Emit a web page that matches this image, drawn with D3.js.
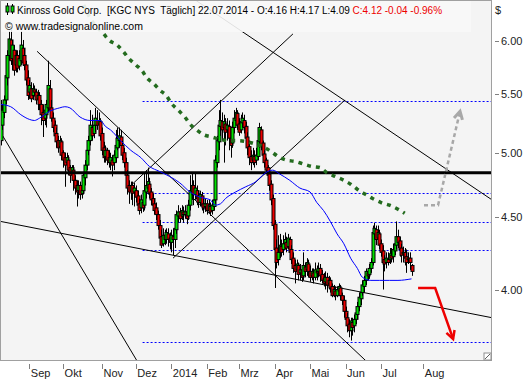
<!DOCTYPE html>
<html>
<head>
<meta charset="utf-8">
<script src="https://cdn.jsdelivr.net/npm/d3@7"></script>
<style>
  body { margin: 0; background: #fff; }
  svg { display: block; font-family: Tahoma, "Liberation Sans", "DejaVu Sans", sans-serif; }
</style>
</head>
<body>
<div id="chart"></div>
<script>
// daily bars [open, high, low, close], first bar 08.08.2013, last 22.07.2014
var ohlc = [
  [5.10,5.45,5.06,5.27],[5.23,5.41,5.19,5.36],[5.34,5.49,5.29,5.45],[5.45,5.72,5.41,5.67],[5.65,5.91,5.58,5.86],
  [5.86,6.10,5.81,6.02],[6.01,6.17,5.77,5.81],[5.83,6.01,5.72,5.96],[5.91,5.96,5.67,5.72],[5.77,5.91,5.70,5.86],
  [5.86,5.91,5.70,5.74],[5.76,5.91,5.72,5.83],[5.81,6.10,5.77,5.96],[5.93,6.01,5.76,5.79],[5.86,5.93,5.72,5.77],
  [5.77,5.81,5.58,5.63],[5.65,5.72,5.45,5.49],[5.52,5.63,5.46,5.58],[5.55,5.61,5.43,5.46],[5.49,5.60,5.45,5.55],
  [5.54,5.58,5.48,5.52],[5.52,5.55,5.41,5.45],[5.46,5.54,5.36,5.49],[5.49,5.52,5.36,5.41],[5.41,5.45,5.23,5.32],
  [5.34,5.41,5.13,5.27],[5.29,5.41,5.23,5.36],[5.32,5.45,5.21,5.41],[5.38,5.81,5.34,5.58],[5.55,5.63,5.32,5.36],
  [5.38,5.45,5.26,5.29],[5.29,5.34,5.17,5.21],[5.23,5.27,5.10,5.14],[5.16,5.21,5.04,5.09],[5.10,5.14,5.00,5.04],
  [5.05,5.14,4.98,5.10],[5.09,5.12,4.94,4.98],[5.00,5.02,4.88,4.94],[4.96,5.00,4.73,4.90],[4.92,5.00,4.86,4.96],
  [4.94,4.98,4.82,4.86],[4.88,4.90,4.76,4.82],[4.84,4.90,4.78,4.88],[4.86,4.90,4.70,4.78],[4.78,4.82,4.67,4.72],
  [4.74,4.78,4.58,4.69],[4.70,4.78,4.64,4.74],[4.74,4.77,4.63,4.67],[4.68,4.74,4.64,4.70],[4.70,4.84,4.67,4.82],
  [4.80,4.94,4.74,4.90],[4.90,5.06,4.86,5.02],[5.02,5.14,4.98,5.10],[5.10,5.36,5.06,5.23],[5.21,5.32,5.10,5.14],
  [5.16,5.29,5.12,5.23],[5.23,5.38,5.17,5.29],[5.27,5.36,5.19,5.23],[5.24,5.34,5.17,5.27],[5.26,5.29,5.10,5.14],
  [5.16,5.21,4.98,5.02],[5.04,5.09,4.92,4.96],[4.97,5.06,4.92,5.02],[5.02,5.04,4.90,4.94],[4.96,5.02,4.88,4.92],
  [4.92,5.00,4.86,4.96],[4.94,4.98,4.81,4.90],[4.92,5.02,4.86,4.98],[4.96,5.19,4.92,5.06],[5.04,5.21,5.02,5.12],
  [5.10,5.21,5.04,5.14],[5.13,5.19,5.02,5.06],[5.06,5.10,4.94,4.98],[5.00,5.04,4.88,4.92],[4.92,4.96,4.78,4.82],
  [4.82,4.86,4.67,4.72],[4.74,4.78,4.60,4.69],[4.70,4.77,4.63,4.74],[4.74,4.77,4.59,4.68],[4.69,4.76,4.58,4.72],
  [4.70,4.74,4.61,4.65],[4.66,4.70,4.55,4.59],[4.60,4.64,4.52,4.55],[4.57,4.67,4.53,4.63],[4.61,4.66,4.54,4.57],
  [4.59,4.84,4.55,4.70],[4.69,4.86,4.64,4.74],[4.72,4.88,4.67,4.77],[4.75,4.80,4.64,4.68],[4.69,4.72,4.59,4.63],
  [4.64,4.68,4.55,4.59],[4.60,4.64,4.52,4.55],[4.57,4.61,4.48,4.52],[4.52,4.55,4.41,4.44],[4.44,4.48,4.32,4.35],
  [4.36,4.41,4.28,4.30],[4.31,4.42,4.29,4.37],[4.37,4.41,4.30,4.34],[4.34,4.42,4.31,4.39],[4.38,4.42,4.29,4.34],
  [4.35,4.39,4.27,4.32],[4.32,4.41,4.25,4.37],[4.36,4.42,4.23,4.34],[4.34,4.44,4.28,4.42],[4.41,4.55,4.38,4.52],
  [4.51,4.59,4.46,4.54],[4.54,4.57,4.46,4.49],[4.51,4.59,4.48,4.55],[4.54,4.58,4.46,4.52],[4.52,4.59,4.49,4.54],
  [4.54,4.57,4.45,4.49],[4.51,4.63,4.48,4.59],[4.59,4.82,4.55,4.70],[4.69,4.84,4.63,4.74],[4.74,4.78,4.59,4.67],
  [4.67,4.84,4.63,4.72],[4.70,4.74,4.59,4.64],[4.66,4.70,4.57,4.61],[4.61,4.70,4.58,4.67],[4.66,4.69,4.55,4.59],
  [4.60,4.64,4.53,4.57],[4.58,4.64,4.54,4.60],[4.60,4.63,4.52,4.55],[4.55,4.63,4.53,4.59],[4.58,4.61,4.51,4.54],
  [4.55,4.63,4.52,4.59],[4.58,4.67,4.55,4.63],[4.63,4.98,4.60,4.94],[4.92,5.14,4.88,5.10],[5.09,5.36,5.02,5.23],
  [5.22,5.45,5.14,5.27],[5.26,5.34,5.10,5.19],[5.21,5.32,4.92,5.26],[5.24,5.29,5.06,5.17],[5.19,5.29,5.10,5.23],
  [5.22,5.27,5.02,5.12],[5.12,5.17,4.96,5.06],[5.08,5.26,5.04,5.21],[5.21,5.36,5.16,5.29],[5.27,5.38,5.23,5.34],
  [5.33,5.36,5.19,5.23],[5.24,5.29,5.14,5.17],[5.19,5.32,5.16,5.26],[5.25,5.34,5.21,5.29],[5.27,5.32,5.16,5.21],
  [5.22,5.26,5.09,5.12],[5.13,5.17,4.98,5.04],[5.05,5.10,4.90,4.96],[4.97,5.02,4.86,4.92],[4.94,5.04,4.90,4.98],
  [4.97,5.02,4.88,4.92],[4.94,5.04,4.90,4.98],[4.97,5.14,4.94,5.10],[5.09,5.25,5.04,5.21],[5.19,5.22,5.02,5.06],
  [5.08,5.10,4.94,4.98],[4.99,5.02,4.88,4.92],[4.94,4.96,4.84,4.86],[4.88,4.90,4.77,4.82],[4.83,4.86,4.70,4.74],
  [4.75,4.78,4.59,4.63],[4.64,4.67,4.41,4.44],[4.45,4.48,4.01,4.27],[4.28,4.34,4.14,4.18],[4.20,4.37,4.16,4.25],
  [4.25,4.38,4.21,4.30],[4.29,4.34,4.22,4.25],[4.27,4.37,4.23,4.31],[4.31,4.39,4.27,4.34],[4.32,4.36,4.25,4.28],
  [4.29,4.38,4.27,4.35],[4.34,4.36,4.21,4.25],[4.27,4.30,4.17,4.20],[4.21,4.25,4.11,4.14],[4.16,4.20,4.04,4.12],
  [4.13,4.20,4.10,4.17],[4.16,4.18,4.06,4.10],[4.11,4.17,4.06,4.13],[4.13,4.16,4.05,4.08],[4.09,4.25,4.06,4.16],
  [4.15,4.18,4.08,4.12],[4.13,4.21,4.09,4.18],[4.17,4.20,4.08,4.12],[4.12,4.16,4.05,4.08],[4.09,4.14,4.06,4.12],
  [4.11,4.14,4.04,4.08],[4.08,4.18,4.06,4.13],[4.12,4.16,4.06,4.11],[4.12,4.18,4.08,4.14],[4.14,4.17,4.05,4.09],
  [4.10,4.13,4.04,4.06],[4.07,4.11,4.02,4.04],[4.05,4.12,4.00,4.08],[4.08,4.11,3.98,4.03],[4.04,4.09,4.00,4.06],
  [4.06,4.08,3.98,4.01],[4.02,4.04,3.95,3.96],[3.97,4.03,3.95,4.00],[3.99,4.02,3.93,3.96],[3.96,4.02,3.95,4.00],
  [3.99,4.04,3.96,4.02],[4.01,4.03,3.93,3.96],[3.96,3.98,3.90,3.93],[3.93,3.96,3.82,3.86],[3.86,3.89,3.78,3.81],
  [3.82,3.85,3.73,3.77],[3.78,3.81,3.70,3.74],[3.74,3.82,3.68,3.80],[3.79,3.82,3.71,3.76],[3.77,3.84,3.73,3.81],
  [3.81,3.87,3.78,3.85],[3.84,3.92,3.81,3.89],[3.89,3.98,3.86,3.95],[3.94,4.01,3.90,3.98],[3.98,4.06,3.96,4.03],
  [4.02,4.09,3.98,4.06],[4.06,4.14,4.03,4.12],[4.11,4.14,4.06,4.09],[4.10,4.17,4.07,4.14],[4.14,4.21,4.11,4.18],
  [4.18,4.44,4.16,4.39],[4.38,4.46,4.34,4.42],[4.41,4.44,4.30,4.34],[4.35,4.44,4.30,4.39],[4.38,4.41,4.27,4.30],
  [4.31,4.34,4.22,4.25],[4.26,4.30,4.00,4.18],[4.20,4.23,4.12,4.17],[4.18,4.25,4.14,4.21],[4.20,4.25,4.16,4.18],
  [4.20,4.28,4.17,4.24],[4.23,4.28,4.18,4.21],[4.22,4.31,4.18,4.27],[4.26,4.35,4.23,4.31],[4.30,4.47,4.27,4.36],
  [4.36,4.41,4.28,4.32],[4.33,4.36,4.22,4.27],[4.28,4.31,4.18,4.23],[4.24,4.29,4.18,4.25],[4.25,4.28,4.16,4.21],
  [4.22,4.27,4.11,4.18],[4.20,4.25,4.17,4.21],[4.21,4.25,4.13,4.18],[4.16,4.17,4.09,4.12]
];

// blue moving average [bar, price]
var maBlue = [[0,5.41],[6,5.39],[12,5.32],[17,5.28],[20,5.27],[23,5.29],[29,5.35],[35,5.38],[38,5.39],[41,5.38],
  [47,5.30],[53,5.27],[59,5.27],[62,5.22],[65,5.19],[71,5.10],[77,5.02],[83,4.96],[88,4.89],[94,4.85],[100,4.81],
  [106,4.76],[112,4.69],[118,4.65],[124,4.63],[127,4.59],[130,4.60],[133,4.64],[139,4.69],[145,4.73],[151,4.77],
  [155,4.82],[158,4.85],[161,4.86],[165,4.83],[171,4.78],[177,4.72],[183,4.69],[187,4.61],[191,4.55],[195,4.47],
  [199,4.38],[203,4.31],[207,4.21],[211,4.14],[214,4.08],[219,4.06],[224,4.06],[230,4.06],[235,4.06],[243,4.07]];

// green dotted long moving average [bar, price]
var maGreen = [[47,6.45],[54,6.20],[61,6.07],[64,6.01],[69,5.96],[73,5.89],[76,5.83],[80,5.77],[84,5.71],[86,5.66],
  [91,5.59],[94,5.54],[98,5.49],[101,5.42],[105,5.36],[109,5.30],[112,5.24],[116,5.19],[120,5.15],[125,5.13],
  [130,5.11],[135,5.10],[140,5.10],[146,5.09],[151,5.07],[155,5.05],[160,5.01],[164,4.97],[169,4.94],[174,4.93],
  [179,4.91],[184,4.89],[189,4.88],[193,4.84],[198,4.81],[203,4.78],[207,4.75],[211,4.71],[216,4.67],[220,4.64],
  [225,4.61],[230,4.59],[235,4.56],[239,4.53]];

// thin trend lines, each [[bar, price], [bar, price]]
var trendLines = [
  [[0, 5.17], [80.7, 3.56]],
  [[21.6, 5.90], [216.1, 3.56]],
  [[115.6, 6.41], [290.6, 4.63]],
  [[77.1, 4.74], [172.9, 6.07]],
  [[102, 4.21], [203.7, 5.45]],
  [[0, 4.47], [290.6, 3.82]]
];

var supportLevel = 4.84;
var dottedLevels = [5.44, 4.68, 4.46, 4.26, 3.67];
var dottedFromBar = 84;

// projection arrows [bar, price]
var upArrow = [[250.4, 4.59], [258.7, 4.59], [271.7, 5.35]];
var downArrow = [[246.9, 4.01], [257, 4.01], [267.6, 3.69]];

var priceTicks = [4.00, 4.50, 5.00, 5.50, 6.00];
var monthLabels = ["Sep", "Okt", "Nov", "Dez", "2014", "Feb", "Mrz", "Apr", "Mai", "Jun", "Jul", "Aug"];
var monthBars = [17, 37, 60, 80, 101, 122, 141, 162, 183, 204, 225, 250];

var W = 531, H = 380;
var plotW = 492, plotH = 361;

var svg = d3.select("#chart").append("svg")
  .attr("width", W).attr("height", H);

var x = d3.scaleLinear().domain([0, 243]).range([0.55, 411.5]);
var y = d3.scaleLog().domain([4, 6]).range([289.5, 41]);

svg.append("defs").append("clipPath").attr("id", "plotclip")
  .append("rect").attr("x", 0).attr("y", 0).attr("width", plotW).attr("height", plotH);

svg.append("rect").attr("x", 0.5).attr("y", 0.5).attr("width", plotW - 1).attr("height", plotH - 1)
  .attr("fill", "#f4f4f4");

var plot = svg.append("g").attr("clip-path", "url(#plotclip)");

// dotted levels
plot.selectAll(".level").data(dottedLevels).enter().append("line")
  .attr("class", "level")
  .attr("x1", x(dottedFromBar)).attr("x2", plotW)
  .attr("y1", function (d) { return Math.floor(y(d)) + 0.5; })
  .attr("y2", function (d) { return Math.floor(y(d)) + 0.5; })
  .style("stroke", "#0000ff").style("stroke-width", "1px").style("stroke-dasharray", "2,2");

// trend lines
plot.selectAll(".trend").data(trendLines).enter().append("line")
  .attr("class", "trend")
  .attr("x1", function (d) { return x(d[0][0]); })
  .attr("y1", function (d) { return y(d[0][1]); })
  .attr("x2", function (d) { return x(d[1][0]); })
  .attr("y2", function (d) { return y(d[1][1]); })
  .attr("stroke", "#000").attr("stroke-width", 1);

// candles
var bw = 3;
var candle = plot.selectAll(".candle").data(ohlc).enter().append("g").attr("class", "candle");
candle.append("line")
  .attr("x1", function (d, i) { return Math.round(x(i)) + 0.5; })
  .attr("x2", function (d, i) { return Math.round(x(i)) + 0.5; })
  .attr("y1", function (d) { return y(d[1]); })
  .attr("y2", function (d) { return y(d[2]); })
  .attr("stroke", "#000").attr("stroke-width", 1);
candle.append("rect")
  .attr("x", function (d, i) { return Math.round(x(i)) - 1; })
  .attr("width", bw)
  .attr("y", function (d) { return y(Math.max(d[0], d[3])); })
  .attr("height", function (d) { return Math.max(1, Math.abs(y(d[0]) - y(d[3]))); })
  .attr("fill", function (d) { return d[3] >= d[0] ? "#00e000" : "#ee0000"; })
  .attr("stroke", "#000").attr("stroke-width", 1);

// support line
plot.append("line")
  .attr("x1", 0).attr("x2", plotW)
  .attr("y1", y(supportLevel)).attr("y2", y(supportLevel))
  .attr("stroke", "#000").attr("stroke-width", 3);

// moving averages
var lineGen = d3.line()
  .x(function (d) { return x(d[0]); })
  .y(function (d) { return y(d[1]); })
  .curve(d3.curveMonotoneX);

plot.append("path").datum(maBlue).attr("d", lineGen)
  .attr("fill", "none").attr("stroke", "#0000ff").attr("stroke-width", 1);

plot.append("path").datum(maGreen).attr("d", lineGen)
  .attr("fill", "none").attr("stroke", "#236b1e").attr("stroke-width", 3.5)
  .attr("stroke-dasharray", "4,5");

// arrows
var straight = d3.line().x(function (d) { return x(d[0]); }).y(function (d) { return y(d[1]); });

function arrowHead(pts, size) {
  var a = pts[pts.length - 2], b = pts[pts.length - 1];
  var x0 = x(a[0]), y0 = y(a[1]), x1 = x(b[0]), y1 = y(b[1]);
  var ang = Math.atan2(y1 - y0, x1 - x0);
  var p1 = [x1 - size * Math.cos(ang - 0.5), y1 - size * Math.sin(ang - 0.5)];
  var p2 = [x1 - size * Math.cos(ang + 0.5), y1 - size * Math.sin(ang + 0.5)];
  return [p1, [x1, y1], p2];
}

plot.append("path").datum(upArrow).attr("d", straight)
  .attr("fill", "none").attr("stroke", "#a8a8a8").attr("stroke-width", 2.5)
  .attr("stroke-dasharray", "4,3");
plot.append("path").attr("d", d3.line()(arrowHead(upArrow, 9)))
  .attr("fill", "none").attr("stroke", "#a8a8a8").attr("stroke-width", 3);

plot.append("path").datum(downArrow).attr("d", straight)
  .attr("fill", "none").attr("stroke", "#ee0000").attr("stroke-width", 2.5);
plot.append("path").attr("d", d3.line()(arrowHead(downArrow, 9)))
  .attr("fill", "none").attr("stroke", "#ee0000").attr("stroke-width", 2.5);

// frame
svg.append("rect").attr("x", 0.5).attr("y", 0.5).attr("width", plotW - 1).attr("height", plotH - 1)
  .attr("fill", "none").attr("stroke", "#a0a0a0");
svg.append("rect").attr("x", plotW - 8).attr("y", plotH - 8).attr("width", 7).attr("height", 7)
  .attr("fill", "#fff").attr("stroke", "#909090");
svg.append("line").attr("x1", plotW - 7).attr("y1", plotH - 2).attr("x2", plotW - 2).attr("y2", plotH - 7)
  .attr("stroke", "#606060");

// header
var header = svg.append("g");
header.append("rect").attr("x", 1).attr("y", 1).attr("width", 470).attr("height", 31)
  .attr("fill", "#f8f8f8").attr("opacity", 0.9);
header.append("line").attr("x1", 7.5).attr("x2", 7.5).attr("y1", 3).attr("y2", 15).attr("stroke", "#000");
header.append("rect").attr("x", 6).attr("y", 6).attr("width", 3).attr("height", 6).attr("fill", "#00e000").attr("stroke", "#000");
header.append("line").attr("x1", 12.5).attr("x2", 12.5).attr("y1", 4).attr("y2", 14).attr("stroke", "#000");
header.append("rect").attr("x", 11).attr("y", 6).attr("width", 3).attr("height", 6).attr("fill", "#00e000").attr("stroke", "#000");

var title = header.append("text").attr("x", 17).attr("y", 14).attr("font-size", "10px").attr("fill", "#000")
  .style("white-space", "pre");
title.append("tspan").text("Kinross Gold Corp.  [KGC NYS  Täglich] 22.07.2014 - O:4.16 H:4.17 L:4.09 ");
title.append("tspan").attr("fill", "#ee0000").text("C:4.12 -0.04 -0.96%");

header.append("text").attr("x", 5).attr("y", 30).attr("font-size", "10.5px").attr("fill", "#000")
  .text("© www.tradesignalonline.com");

// y axis (right)
var yAxis = svg.append("g");
yAxis.selectAll("line").data(priceTicks).enter().append("line")
  .attr("x1", plotW + 3).attr("x2", plotW + 7)
  .attr("y1", function (d) { return Math.round(y(d)) + 0.5; })
  .attr("y2", function (d) { return Math.round(y(d)) + 0.5; })
  .attr("stroke", "#808080");
yAxis.selectAll("text").data(priceTicks).enter().append("text")
  .attr("x", plotW + 9).attr("y", function (d) { return y(d) + 4; })
  .attr("font-size", "11px").attr("fill", "#222")
  .text(function (d) { return d3.format(".2f")(d); });
svg.append("text").attr("x", plotW + 3).attr("y", 14).attr("font-size", "11px").attr("fill", "#222").text("$");

// x axis (bottom)
var xAxis = svg.append("g");
xAxis.selectAll("line").data(monthBars).enter().append("line")
  .attr("x1", function (d) { return Math.round(x(d)) + 0.5; })
  .attr("x2", function (d) { return Math.round(x(d)) + 0.5; })
  .attr("y1", plotH + 3).attr("y2", plotH + 8)
  .attr("stroke", "#808080");
xAxis.selectAll("text").data(monthLabels).enter().append("text")
  .attr("x", function (d, i) { return x(monthBars[i]) + 1.5; })
  .attr("y", plotH + 16)
  .attr("font-size", "11px").attr("fill", "#222")
  .text(function (d) { return d; });
</script>
</body>
</html>
